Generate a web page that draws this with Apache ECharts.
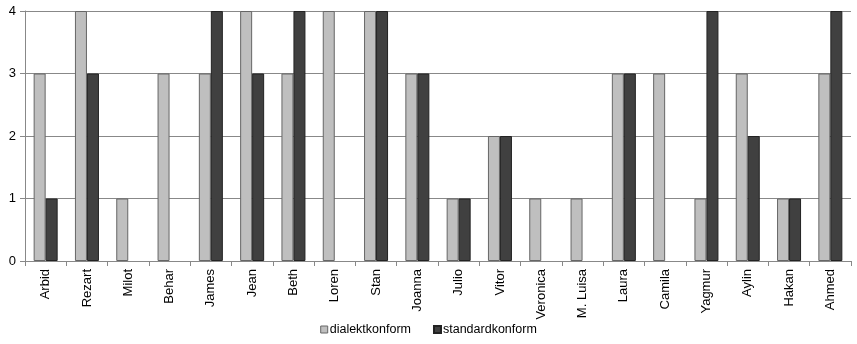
<!DOCTYPE html>
<html>
<head>
<meta charset="utf-8">
<style>
  html, body { margin: 0; padding: 0; background: #fff; }
  #chart { width: 857px; height: 344px; }
</style>
<script src="https://cdn.jsdelivr.net/npm/echarts@6/dist/echarts.min.js"></script>
</head>
<body>
<div id="chart"></div>
<script>
// Speakers
const names = ['Arbid', 'Rezart', 'Milot', 'Behar', 'James', 'Jean', 'Beth', 'Loren', 'Stan', 'Joanna',
  'Julio', 'Vitor', 'Veronica', 'M. Luisa', 'Laura', 'Camila', 'Yagmur', 'Aylin', 'Hakan', 'Ahmed'];
// Counts per speaker
const dialektkonform = [3, 4, 1, 3, 3, 4, 3, 4, 4, 3, 1, 2, 1, 1, 3, 3, 1, 3, 1, 3];
const standardkonform = [1, 3, 0, 0, 4, 3, 4, 0, 4, 3, 1, 2, 0, 0, 3, 0, 4, 2, 1, 4];
const yTicks = [0, 1, 2, 3, 4];

const chart = echarts.init(document.getElementById('chart'), null, { renderer: 'canvas' });
const font = 'Liberation Sans, Arial, sans-serif';

// zero-height bars get no outline so nothing shows on the baseline
const toItems = (arr) => arr.map(v => (v === 0 ? { value: v, itemStyle: { borderWidth: 0, opacity: 0 } } : v));

chart.setOption({
  animation: false,
  textStyle: { fontFamily: font },
  grid: { left: 25, right: 6, top: 11, bottom: 83, containLabel: false },
  legend: {
    bottom: 3,
    left: 'center',
    itemWidth: 7,
    itemHeight: 7,
    itemGap: 22,
    textStyle: { fontSize: 12.5, color: '#000', fontFamily: font, padding: [0, 0, 0, -3] },
    data: [
      { name: 'dialektkonform', icon: 'rect', itemStyle: { borderColor: '#666', borderWidth: 1 } },
      { name: 'standardkonform', icon: 'rect' }
    ]
  },
  xAxis: {
    type: 'category',
    data: names,
    axisLine: { lineStyle: { color: '#888', width: 1 } },
    axisTick: { show: true, length: 5, lineStyle: { color: '#888' } },
    axisLabel: { rotate: 90, fontSize: 13, color: '#000', margin: 8, interval: 0, fontFamily: font }
  },
  yAxis: {
    type: 'value',
    min: yTicks[0],
    max: yTicks[yTicks.length - 1],
    interval: 1,
    axisLine: { show: true, lineStyle: { color: '#888', width: 1 } },
    axisTick: { show: true, length: 5, inside: false, lineStyle: { color: '#888' } },
    axisLabel: { fontSize: 13, color: '#000', margin: 9, fontFamily: font },
    splitLine: { show: true, lineStyle: { color: '#888', width: 1 } }
  },
  series: [
    {
      name: 'dialektkonform',
      type: 'bar',
      data: toItems(dialektkonform),
      barWidth: 12,
      barGap: '0%',
      itemStyle: { color: '#bfbfbf', borderColor: '#666', borderWidth: 1 }
    },
    {
      name: 'standardkonform',
      type: 'bar',
      data: toItems(standardkonform),
      barWidth: 12,
      barGap: '0%',
      itemStyle: { color: '#404040', borderColor: '#222', borderWidth: 1 }
    }
  ]
});
</script>
</body>
</html>
